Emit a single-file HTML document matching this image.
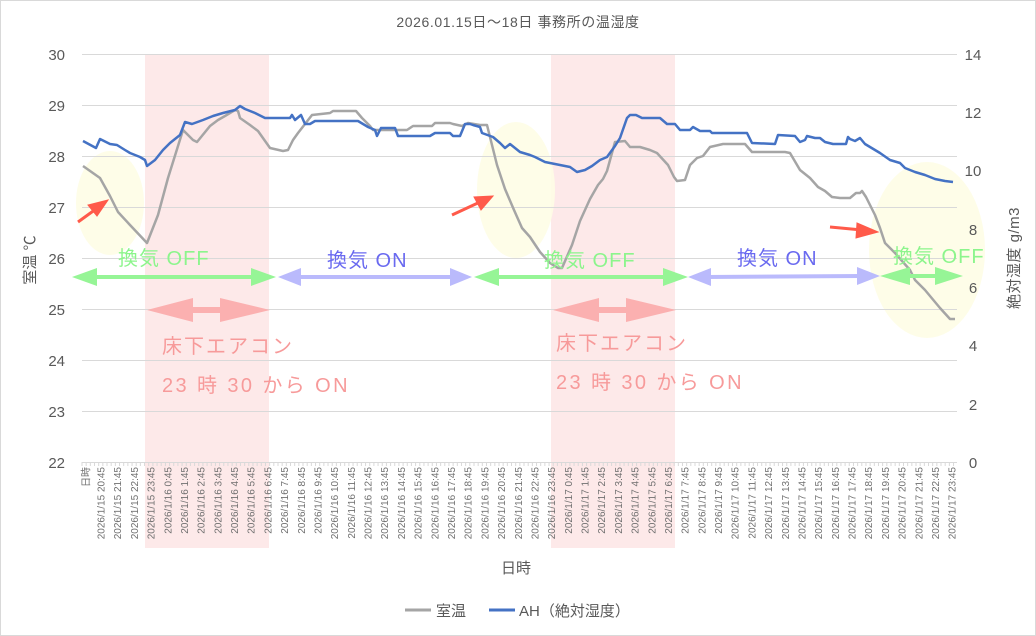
<!DOCTYPE html>
<html><head><meta charset="utf-8"><style>
html,body{margin:0;padding:0;background:#fff;}
svg{display:block;font-family:"Liberation Sans","Noto Sans CJK JP",sans-serif;}
</style></head><body>
<svg width="1036" height="636" viewBox="0 0 1036 636" xmlns="http://www.w3.org/2000/svg">
<rect x="0.5" y="0.5" width="1035" height="635" fill="#fff" stroke="#d9d9d9"/>
<text x="518" y="27" text-anchor="middle" font-size="14" fill="#595959" letter-spacing="0.6">2026.01.15日～18日  事務所の温湿度</text>
<rect x="145" y="54" width="124" height="494" fill="#fde9e9"/>
<rect x="551" y="54" width="124" height="494" fill="#fde9e9"/>
<ellipse cx="110" cy="203" rx="34" ry="52" fill="#fefde5" opacity="0.9"/>
<ellipse cx="516" cy="190" rx="39" ry="68" fill="#fefde5" opacity="0.9"/>
<ellipse cx="927" cy="250" rx="58" ry="88" fill="#fefde5" opacity="0.9"/>
<g stroke="#d9d9d9" stroke-width="1">
<line x1="82" y1="54.5" x2="957" y2="54.5"/><line x1="82" y1="105.5" x2="957" y2="105.5"/>
<line x1="82" y1="156.5" x2="957" y2="156.5"/><line x1="82" y1="207.5" x2="957" y2="207.5"/>
<line x1="82" y1="258.5" x2="957" y2="258.5"/><line x1="82" y1="309.5" x2="957" y2="309.5"/>
<line x1="82" y1="360.5" x2="957" y2="360.5"/><line x1="82" y1="411.5" x2="957" y2="411.5"/>
<line x1="82" y1="462.5" x2="957" y2="462.5"/>
</g>
<g id="ticks" stroke="#d9d9d9"></g>
<g font-size="15" fill="#595959" text-anchor="end">
<text x="65" y="60">30</text><text x="65" y="111">29</text><text x="65" y="162">28</text><text x="65" y="213">27</text>
<text x="65" y="264">26</text><text x="65" y="315">25</text><text x="65" y="366">24</text><text x="65" y="417">23</text><text x="65" y="468">22</text>
</g>
<g font-size="15" fill="#595959" text-anchor="middle">
<text x="973" y="60">14</text><text x="973" y="118">12</text><text x="973" y="176">10</text><text x="973" y="235">8</text>
<text x="973" y="293">6</text><text x="973" y="351">4</text><text x="973" y="410">2</text><text x="973" y="468">0</text>
</g>
<text transform="translate(35,260) rotate(-90)" text-anchor="middle" font-size="15" fill="#595959">室温  ℃</text>
<text transform="translate(1019,258) rotate(-90)" text-anchor="middle" font-size="15" fill="#595959" letter-spacing="0.5">絶対湿度  g/m3</text>
<text x="516" y="573" text-anchor="middle" font-size="15" fill="#595959">日時</text>
<g id="xl" font-size="10" fill="#707070"></g>
<polyline fill="none" stroke="#a5a5a5" stroke-width="2.5" stroke-linejoin="round" points="83,166 100,178 110,196 118,212 130,225 147,243 158,215 168,178 183,130 193,140 197,142 210,126 218,120 225,116 235,110 238,111 240,118 250,125 258,131 270,148 283,151 288,150 293,140 298,133 305,124 312,115 330,113 333,111 356,111 362,118 370,126 373,130 407,130 413,126 432,126 435,123 450,123 453,124 462,126 468,123 480,125 487,125 490,137 497,165 505,189 514,210 522,228 530,237 540,252 550,263 558,268 562,268 572,245 580,221 590,199 598,185 603,179 607,171 615,142 625,141 630,147 640,147 650,150 657,153 668,165 674,177 677,181 685,180 690,165 697,158 703,156 710,147 723,144 745,144 752,152 785,152 790,153 800,170 810,178 818,187 825,191 832,197 840,198 850,198 856,193 860,193 862,191 866,197 875,215 880,228 885,243 895,253 910,270 915,280 925,290 940,308 950,319 955,319"/>
<polyline fill="none" stroke="#4472c4" stroke-width="2.5" stroke-linejoin="round" points="83,141 96,148 100,139 110,144 117,145 125,150 130,153 140,157 145,160 147,166 155,160 163,150 170,143 180,135 185,122 192,124 203,120 213,116 223,113 235,110 240,106 245,109 255,113 265,118 290,118 292,115 295,120 301,115 305,124 310,124 315,121 358,121 368,127 375,130 377,136 381,128 395,128 398,136 430,136 435,133 450,133 453,136 460,136 465,124 470,124 473,125 480,127 482,133 493,137 500,143 505,148 510,144 520,152 530,155 535,157 545,162 560,165 570,167 577,172 585,170 592,166 600,160 607,157 615,146 620,138 627,118 630,115 636,115 642,118 660,118 667,124 675,124 680,130 690,130 693,127 700,131 710,131 712,133 747,133 752,143 775,144 778,135 795,136 800,142 805,140 807,136 815,138 820,138 825,142 833,144 846,144 848,137 850,139 855,141 860,138 865,144 880,153 890,160 900,163 905,168 915,172 925,175 935,179 945,181 953,182"/>
<g fill="#ff5a4a" stroke="#ff5a4a">
<line x1="78" y1="222" x2="96" y2="209" stroke-width="3"/><polygon points="108,200 88,205 97,216"/>
<line x1="452" y1="215" x2="480" y2="202" stroke-width="3"/><polygon points="493,196 474,197 481,210"/>
<line x1="830" y1="227" x2="862" y2="230" stroke-width="3"/><polygon points="878,232 857,223 856,238"/>
</g>
<g>
<line x1="90" y1="277" x2="258" y2="277" stroke="#96f596" stroke-width="4"/>
<polygon points="72,277 97,268 97,286" fill="#96f596"/><polygon points="276,277 251,268 251,286" fill="#96f596"/>
<line x1="296" y1="277" x2="455" y2="277" stroke="#babafc" stroke-width="4"/>
<polygon points="278,277 301,268 301,286" fill="#babafc"/><polygon points="472,277 450,268 450,286" fill="#babafc"/>
<line x1="492" y1="277" x2="670" y2="277" stroke="#96f596" stroke-width="4"/>
<polygon points="474,277 499,268 499,286" fill="#96f596"/><polygon points="688,277 663,268 663,286" fill="#96f596"/>
<line x1="706" y1="277" x2="862" y2="276" stroke="#babafc" stroke-width="4"/>
<polygon points="688,277 711,268 711,286" fill="#babafc"/><polygon points="880,276 857,267 857,285" fill="#babafc"/>
<line x1="900" y1="276" x2="950" y2="276" stroke="#96f596" stroke-width="4"/>
<polygon points="880,276 910,267 910,285" fill="#96f596"/><polygon points="963,276 935,267 935,285" fill="#96f596"/>
</g>
<g font-size="20" letter-spacing="1">
<text x="118" y="265" fill="#8cf58c">換気 OFF</text>
<text x="327" y="267" fill="#6a6af0">換気 ON</text>
<text x="544" y="267" fill="#8cf58c">換気 OFF</text>
<text x="737" y="265" fill="#6a6af0">換気 ON</text>
<text x="893" y="263" fill="#8cf58c">換気 OFF</text>
</g>
<g fill="#fbb0b0">
<rect x="180" y="307" width="50" height="6"/><polygon points="147,310 193,298 193,322"/><polygon points="270,310 220,298 220,322"/>
<rect x="586" y="307" width="50" height="6"/><polygon points="553,310 599,298 599,322"/><polygon points="676,310 626,298 626,322"/>
</g>
<g font-size="20" fill="#f79a9a">
<text x="162" y="353" letter-spacing="2">床下エアコン</text><text x="162" y="392" letter-spacing="2.4">23 時 30 から ON</text>
<text x="556" y="350" letter-spacing="2">床下エアコン</text><text x="556" y="389" letter-spacing="2.4">23 時 30 から ON</text>
</g>
<line x1="405" y1="610" x2="431" y2="610" stroke="#a5a5a5" stroke-width="3"/>
<text x="436" y="616" font-size="15" fill="#595959">室温</text>
<line x1="489" y1="610" x2="515" y2="610" stroke="#4472c4" stroke-width="3"/>
<text x="519" y="616" font-size="15" fill="#595959">AH（絶対湿度）</text>
</svg>
<script>
(function(){
var ns="http://www.w3.org/2000/svg",g=document.getElementById("xl"),t=document.getElementById("ticks");
function add(x,s){var e=document.createElementNS(ns,"text");e.setAttribute("transform","translate("+(x+3.5)+",467) rotate(-90)");e.setAttribute("text-anchor","end");e.textContent=s;g.appendChild(e);}
add(86,"日時");
var labs=[];
for(var h=20;h<=23;h++)labs.push("2026/1/15 "+h+":45");
for(var d=16;d<=17;d++)for(var h=0;h<=23;h++)labs.push("2026/1/"+d+" "+h+":45");
for(var i=0;i<labs.length;i++)add(101+i*16.69,labs[i]);
for(var x=82;x<=957;x+=4.17){var l=document.createElementNS(ns,"line");l.setAttribute("x1",x);l.setAttribute("x2",x);l.setAttribute("y1",462);l.setAttribute("y2",466);t.appendChild(l);}
})();
</script>
</body></html>
